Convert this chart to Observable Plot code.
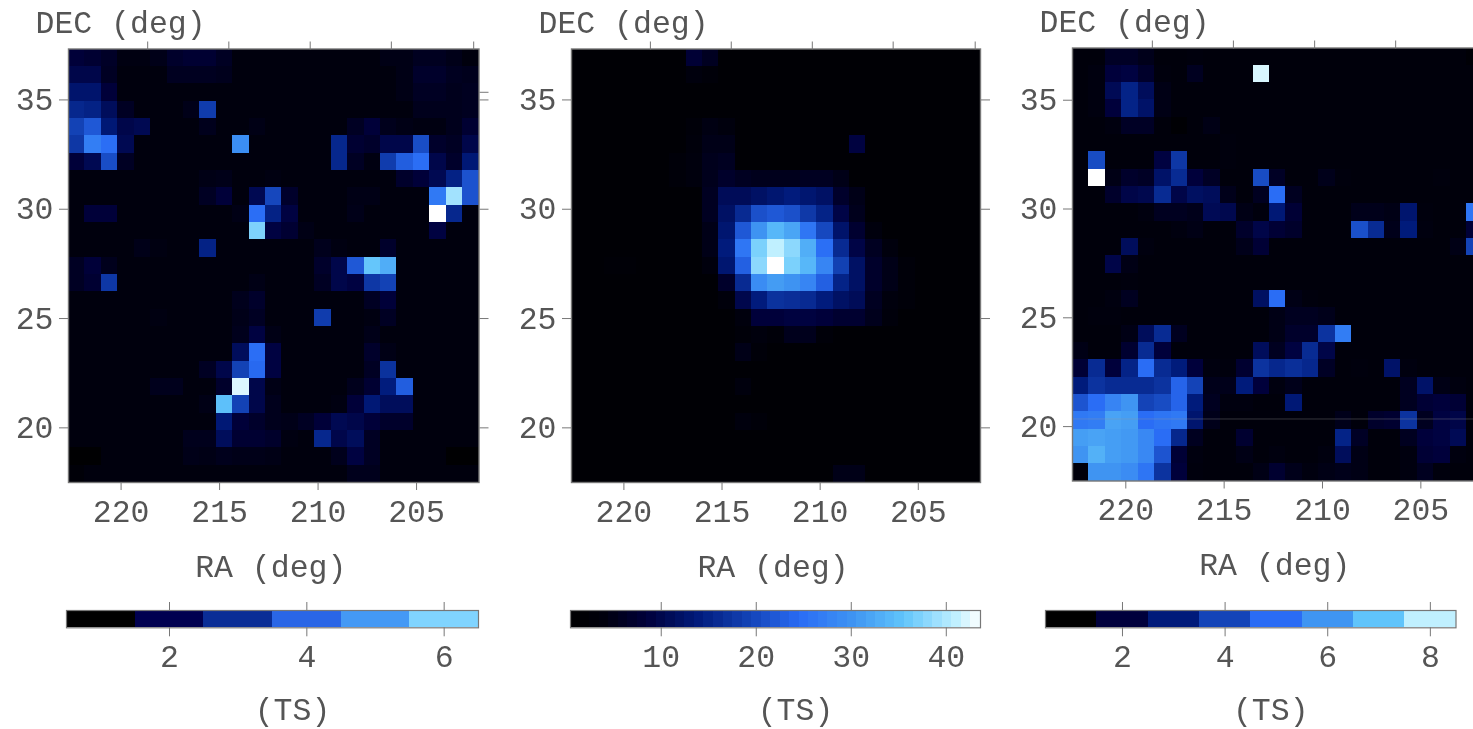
<!DOCTYPE html>
<html><head><meta charset="utf-8">
<script src="https://cdn.jsdelivr.net/npm/d3@7"></script>
<script src="https://cdn.jsdelivr.net/npm/@observablehq/plot@0.6"></script>
<style>
html,body{margin:0;padding:0;background:#fff;overflow:hidden}
#page{position:relative;width:1473px;height:729px;overflow:hidden;filter:blur(0.5px)}
#page svg{position:absolute;overflow:visible;background:none;max-width:none}
</style></head><body><div id="page"></div>
<script>
const xTickValues=[220,215,210,205];
const yTickValues=[35,30,25,20];
const topTickValues=[218.65,214.53,210.4,206.28,202.1];
const rightTicksA=[35.35,35,30,25,20];
const rightTicksB=[35,30,25,20];
const colorStops=[0,.08,.19,.31,.44,.56,.69,.81,.94,1];
const colorRange=["#000000","#00000c","#00003c","#001a7a","#1444b8","#2a6cf5","#3f95f2","#60c4fb","#c0f0ff","#ffffff"];
const legendA=["#000000","#000050","#0a2d96","#2a66e6","#4499f5","#80d4ff"];
const legendC=["#000000","#00003c","#001a7a","#1444b8","#2a6cf5","#3f95f2","#60c4fb","#c0f0ff"];
const legendB=d3.range(1,44);

const gridA=[
[1.6,1.5,1.35,1.05,1.05,1.15,1.4,1.5,1.5,1.3,1,1,1,1,1,1,1,1,1,1.1,1.1,1.25,1.25,1.15,1],
[1.8,1.8,1.3,1,1,1,1.25,1.25,1.25,1.2,1,1,1,1,1,1,1,1,1,1,1.1,1.4,1.4,1.25,1.2],
[2.2,2.2,1.6,1,1,1,1,1,1,1,1,1,1,1,1,1,1,1,1,1,1.1,1.3,1.3,1.2,1.25],
[2.6,2.5,2,1.3,1,1,1,1.15,3,1,1,1,1,1,1,1,1,1,1,1,1,1.2,1.2,1.2,1.25],
[3.1,3.5,2.3,1.8,1.9,1,1,1,1.2,1,1,1.1,1,1,1,1,1,1.3,1.6,1.2,1.1,1.05,1.05,1.2,1.5],
[2.9,4.2,3.9,1.9,1,1,1,1,1,1,4.5,1,1,1,1,1,2.6,1.5,1.4,1.8,1.8,3.3,1.4,1.3,1.8],
[1.6,1.9,3.3,1.3,1,1,1,1,1,1,1,1,1,1,1,1,2.6,1.3,1.05,3,3.6,3.9,1.8,1.4,2.3],
[1,1,1,1,1,1,1,1,1.1,1.15,1,1,1.05,1,1,1,1,1,1,1,1.4,1.6,1.9,2.5,3.4],
[1,1,1,1,1,1,1,1,1.3,1.6,1,1.9,3.2,1.4,1,1,1,1.1,1.1,1,1,1,4.1,5.9,3.4],
[1,1.6,1.6,1,1,1,1,1,1,1,1.1,3.9,2.5,1.7,1,1,1,1.15,1,1,1,1,6.5,2.6,1],
[1,1,1,1,1,1,1,1,1,1,1,5.6,1.7,1.5,1.1,1,1,1,1,1,1,1,1.7,1,1],
[1,1,1,1,1.15,1.05,1,1,2.5,1,1,1,1,1,1,1.2,1.05,1,1,1.4,1,1,1,1,1],
[1.3,1.6,1.2,1,1,1,1,1,1,1,1,1,1,1,1,1.4,1.8,3.5,5.4,5,1,1,1,1,1],
[1.3,1.5,2.9,1,1,1,1,1,1,1,1,1.1,1,1,1,1.3,1.8,1.7,2.9,3.1,1,1,1,1,1],
[1,1,1,1,1,1,1,1,1,1,1.2,1.4,1,1,1,1,1,1,1.3,1.6,1,1,1,1,1],
[1,1,1,1,1,1.05,1,1,1,1,1.15,1.3,1,1,1,3,1,1,1.05,1.3,1,1,1,1,1],
[1,1,1,1,1,1,1,1,1,1,1.2,1.7,1.1,1,1,1,1,1,1.15,1,1,1,1,1,1],
[1,1,1,1,1,1,1,1,1,1,2,3.9,1.7,1,1,1,1,1,1.4,1.1,1,1,1,1,1],
[1,1,1,1,1,1,1,1,1.3,1.8,3.1,3.8,1.7,1,1,1,1,1,1.3,2.8,1,1,1,1,1],
[1,1,1,1,1,1.2,1.2,1,1,1.4,6.3,1.8,1.1,1,1,1,1,1.2,1.5,2.4,3.6,1,1,1,1],
[1,1,1,1,1,1,1,1,1.1,5.3,3.1,1.8,1.2,1,1,1,1.05,1.6,2.3,2,2,1,1,1,1],
[1,1,1,1,1,1,1,1,1,2.3,1.6,1.4,1.2,1.15,1.3,1.6,1.9,1.8,1.6,1.4,1.4,1,1,1,1],
[1,1,1,1,1,1,1,1.2,1.2,2,1.5,1.5,1.4,1.05,1,2.6,1.8,2,1.3,1,1,1,1,1,1],
[.6,.6,1,1,1,1,1,1.15,1.1,1.2,1.15,1.15,1.1,1,1,1,1.2,1.7,1.3,1,1,1,1,.6,.6],
[.8,1,1,1,1,1,1,1,1,1,1,1,1,1,1,1,1,1.2,1.2,1,1,1,1,1,1]
];
const gridB=[
[2,2,2,2,2,2,2,8,6,2,2,2,2,2,2,2,2,2,2,2,2,2,2,2,2],
[2,2,2,2,2,2,2,4,3,2,2,2,2,2,2,2,2,2,2,2,2,2,2,2,2],
[2,2,2,2,2,2,2,2,2,2,2,2,2,2,2,2,2,2,2,2,2,2,2,2,2],
[2,2,2,2,2,2,2,2,2,2,2,2,2,2,2,2,2,2,2,2,2,2,2,2,2],
[2,2,2,2,2,2,2,3,4.5,4,2,2,2,2,2,2,2,2,2,2,2,2,2,2,2],
[2,2,2,2,2,2,2,3.5,5,5,2,2,2,2,2,2,2,9,2,2,2,2,2,2,2],
[2,2,2,2,2,2,3,4,5.5,6,2,2,2,2,2,2,2,2,2,2,2,2,2,2,2],
[2,2,2,2,2,2,3,4,5.5,7,6,5.5,5.5,5.5,6,6,5,2,2,2,2,2,2,2,2],
[2,2,2,2,2,2,2,2,6,11,11,12,13,14,13,12,7,5,2,2,2,2,2,2,2],
[2,2,2,2,2,2,2,2,6,12,16,21,22,21,18,15,9.5,5.5,2,2,2,2,2,2,2],
[2,2,2,2,2,2,2,2,5,13,22,30,34,32,26,20,12.5,7.5,4,2,2,2,2,2,2],
[2,2,2,2,2,2,2,2,5,14,26,37,41,38,33,25,16,9.5,6,4,2,2,2,2,2],
[2,2,2.5,2.5,2,2,2,2,4,13,23,38,43.6,37,34,28,19,12,7,5,3,2,2,2,2],
[2,2,2,2,2,2,2,2,2,7,16,29,31,30,28,23,15,12,7,5,3,2,2,2,2],
[2,2,2,2,2,2,2,2,2,3.5,10,14,17,16.5,16,14,12,11,6,4,3,2,2,2,2],
[2,2,2,2,2,2,2,2,2,2,4,8.5,8.5,9,9,8.5,7.5,7.5,5.5,3.5,2,2,2,2,2],
[2,2,2,2,2,2,2,2,2,2,3,4,3,5.5,5.5,3,2,2,2,2,2,2,2,2,2],
[2,2,2,2,2,2,2,2,2,2,5,3,2,2,2,2,2,2,2,2,2,2,2,2,2],
[2,2,2,2,2,2,2,2,2,2,2,2,2,2,2,2,2,2,2,2,2,2,2,2,2],
[2,2,2,2,2,2,2,2,2,2,4,2,2,2,2,2,2,2,2,2,2,2,2,2,2],
[2,2,2,2,2,2,2,2,2,2,2,2,2,2,2,2,2,2,2,2,2,2,2,2,2],
[2,2,2,2,2,2,2,2,2,2,4,3,2,2,2,2,2,2,2,2,2,2,2,2,2],
[2,2,2,2,2,2,2,2,2,2,2,2,2,2,2,2,2,2,2,2,2,2,2,2,2],
[2,2,2,2,2,2,2,2,2,2,2,2,2,2,2,2,2,2,2,2,2,2,2,2,2],
[2,2,2,2,2,2,2,2,2,2,2,2,2,2,2,2,5,5,2,2,2,2,2,2,2]
];
const gridC=[
[1.1,1.1,1.6,1.6,1.4,1.1,1.1,1.15,1.1,1.1,1.1,1.1,1.1,1.1,1.1,1.1,1.1,1.1,1.1,1.1,1.1,1.1,1.1,1.1,.8],
[1.1,1.2,2,2.1,1.7,1.15,1.1,1.5,1.1,1.1,1.1,8.2,1.1,1.1,1.1,1.1,1.1,1.1,1.1,1.1,1.1,1.1,1.1,1.1,1.1],
[1.1,1.2,2.4,3.2,2.5,1.3,1.1,1.1,1.1,1.1,1.1,1.1,1.1,1.1,1.1,1.1,1.1,1.1,1.1,1.1,1.1,1.1,1.1,1.1,1.1],
[1.1,1.2,2,3.2,2.7,1.3,1.1,1.1,1.1,1.1,1.1,1.1,1.1,1.1,1.1,1.1,1.1,1.1,1.1,1.1,1.1,1.1,1.1,1.1,1.1],
[1.1,1.1,1.2,1.6,1.6,1.1,.7,1.1,1.3,1.1,1.1,1.1,1.1,1.1,1.1,1.1,1.1,1.1,1.1,1.1,1.1,1.1,1.1,1.1,1.1],
[1.1,1.1,1.1,1.1,1.1,1.1,1.1,1.1,1.1,1.15,1.1,1.1,1.1,1.1,1.1,1.1,1.1,1.1,1.1,1.1,1.1,1.1,1.1,1.1,1.1],
[1.1,4.2,1.1,1.1,1.1,2.1,3.7,1.1,1.1,1.15,1.1,1.1,1.1,1.1,1.1,1.1,1.1,1.1,1.1,1.1,1.1,1.1,1.1,1.1,1.1],
[1.1,8.5,1.3,1.7,1.6,2.7,3.4,2,1.6,1.1,1.1,4.2,1.6,1.1,1.1,1.4,1.15,1.1,1.1,1.1,1.1,1.1,1.15,1.1,1.1],
[1.1,1.1,1.7,2.2,2.3,3.4,2.2,2.6,2.5,1.4,1.1,1.5,5,1.5,1.1,1.1,1.1,1.1,1.1,1.1,1.1,1.1,1.1,1.1,1.1],
[1.1,1.1,1.1,1.1,1.2,1.5,1.5,1.4,2.4,2.3,1.3,1.15,2.9,1.9,1.1,1.1,1.1,1.4,1.4,1.3,2.8,1.15,1.1,1.1,5.2],
[1.1,1.1,1.1,1.1,1.1,1.1,1.2,1.3,1.1,1.1,1.7,2.2,1.9,1.7,1.1,1.1,1.1,4.3,3.4,1.4,3,1.2,1.1,1.1,1.9],
[1.1,1.1,1.1,2.5,1.2,1.1,1.1,1.1,1.1,1.1,1.4,1.9,1.1,1.1,1.1,1.1,1.1,1.1,1.1,1.1,1.1,1.1,1.1,1.3,4],
[1.1,1.1,2.2,1.3,1.1,1.1,1.1,1.1,1.1,1.1,1.1,1.1,1.1,1.1,1.1,1.1,1.1,1.1,1.1,1.1,1.1,1.1,1.1,1.1,1.1],
[1.1,1.1,1.1,1.15,1.1,1.1,1.1,1.1,1.1,1.1,1.1,1.1,1.1,1.1,1.1,1.1,1.1,1.1,1.1,1.1,1.1,1.1,1.1,1.1,1.1],
[1.1,1.1,1.2,1.5,1.1,1.1,1.1,1.1,1.1,1.1,1.1,2.6,5,1.3,1.15,1.1,1.1,1.1,1.1,1.1,1.1,1.1,1.1,1.1,1.1],
[1.1,1.15,1.15,1.1,1.1,1.1,1.1,1.1,1.1,1.1,1.1,1.1,1.3,1.5,1.5,1.4,1.1,1.1,1.1,1.1,1.1,1.1,1.1,1.1,1.1],
[1.1,1.1,1.1,1.3,2.5,3.4,1.5,1.1,1.1,1.1,1.1,1.1,1.3,1.7,1.7,3.6,5.4,1.1,1.1,1.1,1.1,1.1,1.1,1.1,1.1],
[1.3,1.1,1.1,1.8,3.4,2,1.1,1.1,1.1,1.1,1.1,2.5,1.5,2.1,3.4,2.2,1.1,1.1,1.1,1.1,1.1,1.1,1.1,1.1,1.1],
[1.9,3.4,2,3.2,5,3.4,3,2,1.2,1.15,1.8,3.6,3.3,3.5,3.3,1.6,1.1,1.15,1.1,2.7,1.2,1.1,1.1,1.1,1.1],
[3,3.6,3.4,3.4,3.4,3.6,4.8,4,1.4,1.4,3,2,1.2,1.4,1.1,1.1,1.1,1.1,1.1,1.1,1.5,2.7,1.3,1.2,1.1],
[4.4,5,5.6,6,4,4.2,4.8,3,1.5,1.2,1.2,1.1,1.1,2.9,1.1,1.1,1.1,1.1,1.1,1.1,1.5,1.9,2,1.9,1.1],
[5.3,5.4,6.3,6.2,5,5.2,5.3,2.8,1.4,1.1,1.1,1.1,1.1,1.1,1.1,1.1,1.4,1.1,1.7,1.8,3.6,1.5,2.1,2.2,1.1],
[6.2,6.3,6.2,6.1,5.7,5,3.3,1.5,1.1,1.1,1.8,1.1,1.1,1.1,1.1,1.1,3.2,1.6,1.1,1.1,1.5,2,2.1,2.4,1.1],
[6,6.6,6.2,6.1,5.7,4.4,1.9,1.2,1.1,1.1,1.3,1.1,1.2,1.1,1.1,1.2,2.5,1.3,1.1,1.1,1.2,1.9,2,1.2,1.1],
[1.1,6,6,5.8,5.2,3.6,2,1.15,1.1,1.1,1.1,1.3,1.8,1.4,1.2,1.3,1.4,1.3,1.1,1.1,1.2,1.5,1.15,1.1,1.1]
];
[gridA,gridB,gridC].forEach((g,i)=>{ if(g.length!==25) throw new Error("rows "+i+" "+g.length);
  g.forEach((r,j)=>{ if(r.length!==25) throw new Error("grid "+i+" row "+j+" len "+r.length); });});

const FONT='"Liberation Mono", monospace';
const INK="#555";
const page=document.getElementById("page");
const style={fontFamily:FONT,fontSize:"31.5px",color:INK,background:"none"};

function colorScale(lo,hi){
  return {type:"linear",domain:colorStops.map(t=>lo+t*(hi-lo)),range:colorRange,clamp:true};
}
function place(svg,left,top){ svg.style.left=left+"px"; svg.style.top=top+"px"; page.appendChild(svg); }

function panel({grid,lo,hi,left,top,ra,dec,right,extra=[],frameW=410.5,frameH=433.5,raDx=-3,raDy=85}){
  const nr=grid.length,nc=grid[0].length;
  const cells=grid.flatMap((row,r)=>row.map((v,c)=>({
    x1:ra[0]+(ra[1]-ra[0])*c/nc, x2:ra[0]+(ra[1]-ra[0])*(c+1)/nc,
    y1:dec[1]+(dec[0]-dec[1])*r/nr, y2:dec[1]+(dec[0]-dec[1])*(r+1)/nr, v})));
  const svg=Plot.plot({
    width:68+frameW+40,height:48.5+frameH+118,marginLeft:68,marginRight:40,marginTop:48.5,marginBottom:118,
    style,
    x:{domain:ra,axis:null},y:{domain:dec,axis:null},color:colorScale(lo,hi),
    marks:[
      Plot.rect(cells,{x1:"x1",x2:"x2",y1:"y1",y2:"y2",fill:"v",shapeRendering:"crispEdges"}),
      ...extra,
      Plot.frame({stroke:"#777",strokeWidth:1.4}),
      Plot.axisX(xTickValues,{anchor:"bottom",tickSize:8,tickPadding:9,stroke:"#777",fill:INK,label:null,tickFormat:d=>String(d)}),
      Plot.axisX(topTickValues,{anchor:"top",tickSize:8,stroke:"#777",label:null,tickFormat:()=>""}),
      Plot.axisY(yTickValues,{anchor:"left",tickSize:9,tickPadding:6,stroke:"#777",fill:INK,label:null,tickFormat:d=>String(d)}),
      ...(right?[Plot.axisY(right,{anchor:"right",tickSize:9,stroke:"#777",label:null,tickFormat:()=>""})]:[]),
      Plot.text(["RA (deg)"],{frameAnchor:"bottom",dx:raDx,dy:raDy-1,fill:INK,textAnchor:"middle",lineAnchor:"middle"}),
      Plot.text(["DEC (deg)"],{frameAnchor:"top-left",dx:-33,dy:-26,fill:INK,textAnchor:"start",lineAnchor:"middle"})
    ]});
  place(svg,left,top);
}

function colorbar({lo,hi,left,top,width,ticks,fills,scale,tsDx=20}){
  const n=hi-lo;
  const bins=fills.map((f,i)=>({x1:lo+i*(n/fills.length),x2:lo+(i+1)*(n/fills.length),f}));
  const svg=Plot.plot({
    width:width+40,height:138,marginLeft:20,marginRight:20,marginTop:19,marginBottom:138-19-17.3,
    style,
    x:{domain:[lo,hi],axis:null},y:{domain:[0,1],axis:null},
    ...(scale?{color:scale}:{}),
    marks:[
      Plot.rect(bins,{x1:"x1",x2:"x2",y1:0,y2:1,fill:"f",shapeRendering:"crispEdges"}),
      Plot.frame({stroke:"#777",strokeWidth:1.2}),
      Plot.axisX(ticks,{anchor:"bottom",tickSize:9,tickPadding:8,stroke:"#777",fill:INK,label:null,tickFormat:d=>String(d)}),
      Plot.axisX(ticks,{anchor:"top",tickSize:9,stroke:"#777",label:null,tickFormat:()=>""}),
      Plot.text(["(TS)"],{frameAnchor:"bottom",dx:tsDx,dy:82,fill:INK,textAnchor:"middle",lineAnchor:"middle"})
    ]});
  place(svg,left-20,top-19);
}

const raA=[222.67,201.83], decA=[17.5,37.33];
panel({grid:gridA,lo:.5,hi:6.5,left:0,top:0,ra:raA,dec:decA,right:rightTicksA});
panel({grid:gridB,lo:.45,hi:43.6,left:503,top:0,ra:raA,dec:decA,right:rightTicksB,frameW:409});
panel({grid:gridC,lo:.5,hi:8.5,left:1004,top:-1,ra:[222.71,201.84],dec:[17.5,37.4],frameH:433,raDy:85,
  extra:[Plot.ruleY([20.35],{stroke:"#999",strokeOpacity:.35})]});

colorbar({lo:.5,hi:6.5,left:66,top:610,width:412,ticks:[2,4,6],fills:legendA});
colorbar({lo:.45,hi:43.6,left:569.5,top:610,width:410,ticks:[10,20,30,40],fills:legendB,scale:colorScale(.45,43.6)});
colorbar({lo:.5,hi:8.5,left:1044.7,top:610,width:410.5,ticks:[2,4,6,8],fills:legendC});
</script></body></html>
